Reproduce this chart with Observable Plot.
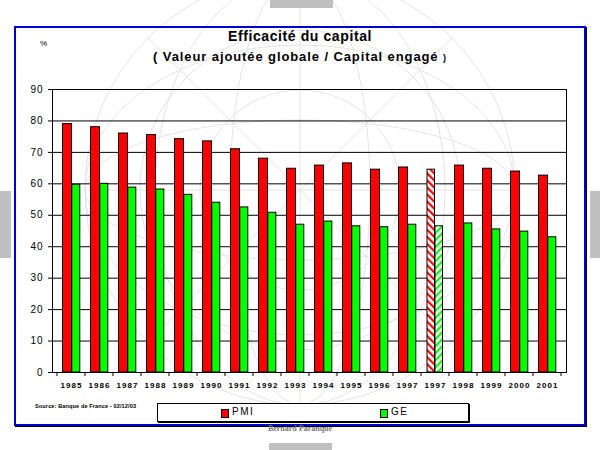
<!DOCTYPE html>
<html><head><meta charset="utf-8">
<script src="https://cdn.jsdelivr.net/npm/d3@7"></script>
<script src="https://cdn.jsdelivr.net/npm/@observablehq/plot@0.6"></script>
<style>
html,body{margin:0;padding:0;background:#fff}
body{width:600px;height:450px;position:relative;overflow:hidden;font-family:Arial,"Liberation Sans",sans-serif}
.abs{position:absolute}
.tab{position:absolute;background:#c0c0c0}
#frame{left:14px;top:26px;width:568px;height:396px;border:2px solid #0000cc;box-shadow:1px 1px 0 #000}
#title{left:0;width:600px;top:28px;text-align:center;font-weight:bold;font-size:14px;letter-spacing:0.6px;color:#000}
#subtitle{left:0;width:600px;top:49px;text-align:center;font-weight:bold;font-size:13px;letter-spacing:0.9px;color:#000}
#subtitle small{font-size:9px}
#pct{left:40px;top:39px;font-size:8px}
#chart{left:0;top:80px}
#source{left:35px;top:403px;font-size:5.6px;font-weight:bold;letter-spacing:0.1px;white-space:nowrap}
#legend{left:157px;top:403px;width:310px;height:17px;border:1px solid #000;box-shadow:1px 1px 0 #000;background:#fff}
.sw{position:absolute;top:5px;width:6px;height:7px;border:1px solid #000}
.lt{position:absolute;top:2px;font-size:10px;letter-spacing:1.5px}
#author{left:0;width:600px;top:424px;text-align:center;font-family:"Liberation Serif","DejaVu Serif",serif;font-size:8px;font-weight:bold;color:#777}
</style></head><body>
<svg class="abs" style="left:0;top:0" width="600" height="450">
  <g fill="none" stroke="#e4e4e4" stroke-width="1">
    <circle cx="300" cy="190" r="215"/>
    <circle cx="300" cy="190" r="160"/>
    <circle cx="300" cy="190" r="100"/>
    <ellipse cx="300" cy="190" rx="70" ry="215"/>
    <ellipse cx="300" cy="190" rx="145" ry="215"/>
    <ellipse cx="300" cy="190" rx="215" ry="70"/>
    <ellipse cx="300" cy="190" rx="215" ry="145"/>
    <line x1="85" y1="190" x2="515" y2="190"/>
    <line x1="300" y1="-25" x2="300" y2="405"/>
    <line x1="148" y1="38" x2="452" y2="342"/>
    <line x1="452" y1="38" x2="148" y2="342"/>
  </g>
</svg>
<div class="tab" style="left:270px;top:0;width:63px;height:8px"></div>
<div class="tab" style="left:269px;top:443px;width:63px;height:7px"></div>
<div class="tab" style="left:0;top:191px;width:11px;height:67px"></div>
<div class="tab" style="left:590px;top:191px;width:10px;height:67px"></div>
<div id="frame" class="abs"></div>
<div id="title" class="abs">Efficacité du capital</div>
<div id="subtitle" class="abs">( Valeur ajoutée globale / Capital engagé <small>)</small></div>
<div id="pct" class="abs">%</div>
<div id="chart" class="abs"></div>
<div id="source" class="abs">Source: Banque de France - 02/12/03</div>
<div id="legend" class="abs">
  <div class="sw" style="left:63px;background:#ff0000"></div><div class="lt" style="left:74px">PMI</div>
  <div class="sw" style="left:222px;background:#00ff00"></div><div class="lt" style="left:233px">GE</div>
</div>
<div id="author" class="abs">Bernard Paranque</div>
<script>
const years = ["1985","1986","1987","1988","1989","1990","1991","1992","1993","1994","1995","1996","1997","1997","1998","1999","2000","2001"];
const pmi = [79, 78, 76, 75.5, 74.2, 73.5, 71, 68, 64.8, 65.8, 66.5, 64.5, 65.2, 64.5, 65.8, 64.8, 63.9, 62.6];
const ge  = [59.7, 60, 58.8, 58.2, 56.5, 54, 52.5, 50.8, 47, 48, 46.5, 46.2, 47, 46.5, 47.4, 45.5, 44.8, 43];
const hatched = [0,0,0,0,0,0,0,0,0,0,0,0,0,1,0,0,0,0];
const yTicks = [0,10,20,30,40,50,60,70,80,90];

const rows = years.map((label, i) => ({key: i, label, pmi: pmi[i], ge: ge[i], hatched: hatched[i] === 1}));
const solid = rows.filter(d => !d.hatched);
const striped = rows.filter(d => d.hatched);

const chart = Plot.plot({
  width: 600, height: 320,
  marginLeft: 52, marginRight: 34, marginTop: 9, marginBottom: 28,
  style: {background: "transparent", fontFamily: "Arial, 'Liberation Sans', sans-serif", color: "#000"},
  x: {type: "band", domain: rows.map(d => d.key), padding: 0, label: null},
  y: {domain: [0, 90], label: null},
  marks: [
    Plot.gridY(yTicks, {stroke: "#000", strokeOpacity: 1, strokeWidth: 1}),
    Plot.barY(solid, {x: "key", y: "pmi", fill: "#ff0000", stroke: "#000", strokeWidth: 1, insetLeft: 5.5, insetRight: 13.5}),
    Plot.barY(solid, {x: "key", y: "ge", fill: "#00ff00", stroke: "#000", strokeWidth: 1, insetLeft: 14.8, insetRight: 5.2}),
    Plot.barY(striped, {x: "key", y: "pmi", fill: "url(#hatchRed)", stroke: "#000", strokeWidth: 1, insetLeft: 6, insetRight: 14.5}),
    Plot.barY(striped, {x: "key", y: "ge", fill: "url(#hatchGreen)", stroke: "#000", strokeWidth: 1, insetLeft: 14, insetRight: 6.5}),
    Plot.axisY({ticks: yTicks, tickSize: 4, tickPadding: 5, fontSize: 10, label: null, tickFormat: d => String(d)}),
    Plot.axisX({tickSize: 0, tickPadding: 10, fontSize: 8, fontWeight: "bold", label: null, tickFormat: i => years[i]}),
    Plot.frame({stroke: "#000", strokeWidth: 1})
  ]
});

const svg = d3.select(chart);
svg.selectAll("g[aria-label='y-axis tick label'] text").attr("letter-spacing", "1px");
svg.selectAll("g[aria-label='x-axis tick label'] text").attr("letter-spacing", "1.1px");
const defs = svg.insert("defs", ":first-child");
const mk = (id, color, angle) => {
  const p = defs.append("pattern").attr("id", id).attr("patternUnits", "userSpaceOnUse")
    .attr("width", 5).attr("height", 5).attr("patternTransform", `rotate(${angle})`);
  p.append("rect").attr("width", 5).attr("height", 5).attr("fill", "#fff");
  p.append("rect").attr("width", 2.2).attr("height", 5).attr("fill", color);
};
mk("hatchRed", "#ff0000", -45);
mk("hatchGreen", "#00ff00", 45);

// tick marks at category boundaries below the x axis
const xs = chart.scale("x");
const ys = chart.scale("y");
const y0 = ys.apply(0);
const bounds = rows.map(d => xs.apply(d.key)).concat([xs.apply(rows[rows.length - 1].key) + xs.bandwidth]);
svg.append("g").selectAll("line").data(bounds).join("line")
  .attr("x1", d => d).attr("x2", d => d).attr("y1", y0).attr("y2", y0 + 4)
  .attr("stroke", "#000");

document.getElementById("chart").appendChild(chart);
</script>
</body></html>
